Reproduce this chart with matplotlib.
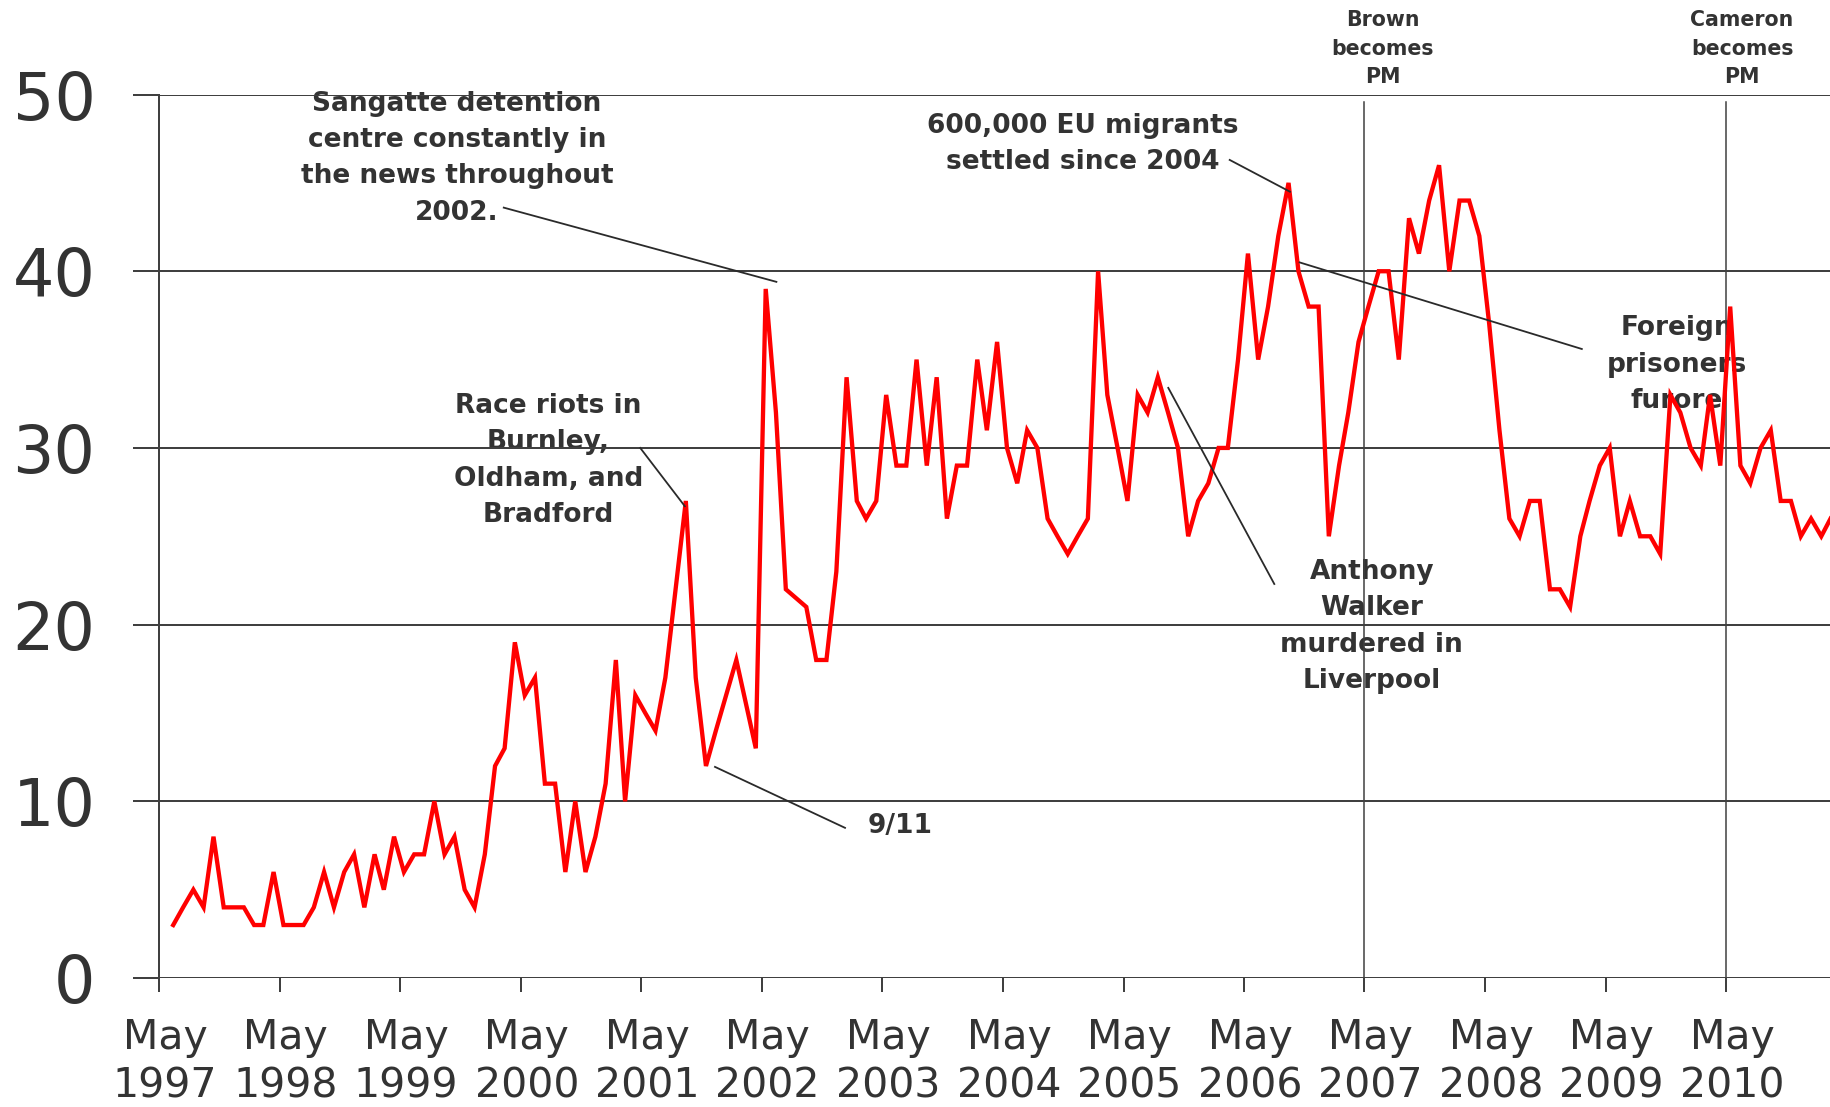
import matplotlib
matplotlib.use("Agg")
import matplotlib.pyplot as plt
import matplotlib.transforms as mtransforms
import pandas as pd

# monthly survey share (%), first value is June 1997; None = no survey that month
share = [3, 4, 5, 4, 8, 4, 4, 4, 3, 3, 6, 3, 3, 3, 4, 6, 4, 6, 7, 4, 7, 5, 8, 6, 7, 7, 10,
         7, 8, 5, 4, 7, 12, 13, 19, 16, 17, 11, 11, 6, 10, 6, 8, 11, 18, 10, 16, 15, 14, 17, 22, 27, 17, 12,
         14, 16, 18, None, 13, 39, 32, 22, None, 21, 18, 18, 23, 34, 27, 26, 27, 33, 29, 29, 35, 29, 34, 26,
         29, 29, 35, 31, 36,
         30, 28, 31, 30, 26, 25, 24, 25, 26, 40, 33, 30, 27, 33, 32, 34, 32, 30, 25, 27, 28, 30, 30, 35, 41,
         35, 38, 42, 45, 40, 38, 38, 25,
         29, 32, 36, 38, 40, 40, 35, 43, 41, 44, 46, 40, 44, 44, 42, 37, 31, 26, 25, 27, 27, 22, 22, 21, 25,
         27, 29, 30, 25, 27, 25, 25, 24,
         33, 32, 30, 29, 33, 29, 38, 29, 28, 30, 31, 27, 27, 25, 26, 25, 26]
first_month = "1997-06-01"

tick_years = list(range(1997, 2011))
y_ticks = [0, 10, 20, 30, 40, 50]

# (label, date of line, label x in decimal years)
pm_changes = [("Brown\nbecomes\nPM", "2007-05-01", 2007.48),
              ("Cameron\nbecomes\nPM", "2010-05-01", 2010.46)]

# (text, text centre, connector start, connector end) in decimal years / %
notes = [
    ("Sangatte detention\ncentre constantly in\nthe news throughout\n2002.",
     (1999.80, 46.4), (2000.19, 43.6), (2002.45, 39.4)),
    ("Race riots in\nBurnley,\nOldham, and\nBradford",
     (2000.56, 29.3), (2001.32, 30.0), (2001.69, 26.7)),
    ("9/11", (2003.48, 8.6), (2003.02, 8.5), (2001.94, 11.95)),
    ("600,000 EU migrants\nsettled since 2004",
     (2004.99, 47.2), (2006.21, 46.3), (2006.71, 44.5)),
    ("Foreign\nprisoners\nfurore", (2009.92, 34.7), (2009.13, 35.6), (2006.79, 40.5)),
    ("Anthony\nWalker\nmurdered in\nLiverpool", (2007.39, 19.9), (2006.58, 22.3), (2005.70, 33.4)),
]


def yr(y):
    y0 = int(y)
    return pd.Timestamp(y0, 1, 1) + pd.Timedelta(days=(y - y0) * 365.25)


grey = "#404040"
txt = "#333333"

dates = pd.date_range(first_month, periods=len(share), freq="MS") + pd.Timedelta(days=12)
s = pd.Series(share, index=dates, dtype=float).dropna()

fig = plt.figure(figsize=(18.3, 11.07), dpi=100)
ax = fig.add_axes([0.0869, 0.1165, 0.9131, 0.7981])
ax.set_axisbelow(True)

ax.plot(s.index, s.values, color="#ff0000", lw=3.1, zorder=2, solid_joinstyle="miter")

for label, d, lx in pm_changes:
    ax.plot([pd.Timestamp(d)] * 2, [0, 49.6], color=grey, lw=1.1, zorder=1.5)
    ax.text(yr(lx), 52.6, label, ha="center", va="center", fontsize=14.8,
            fontweight="bold", color=txt, linespacing=1.55, clip_on=False)

for text, (tx, ty), (x1, y1), (x2, y2) in notes:
    ax.text(yr(tx), ty, text, ha="center", va="center", multialignment="center",
            fontsize=19, fontweight="bold", color=txt, linespacing=1.52, zorder=0.2)
    ax.plot([yr(x1), yr(x2)], [y1, y2], color="#2a2a2a", lw=1.3, zorder=3)

ax.set_ylim(0, 50)
ax.set_xlim(pd.Timestamp("1997-05-01"), yr(2011.19))

ax.set_yticks(y_ticks)
ax.set_yticklabels([str(v) for v in y_ticks])
ax.set_xticks([pd.Timestamp(y, 5, 1) for y in tick_years])
ax.set_xticklabels([f"May\n{y}" for y in tick_years], linespacing=1.28)

ax.yaxis.grid(True, color=grey, lw=1.44)
ax.tick_params(axis="y", direction="out", length=18.7, width=1.44, color=grey,
               pad=27, labelsize=47, labelcolor=txt)
ax.tick_params(axis="x", direction="out", length=10, width=1.44, color=grey,
               pad=19, labelsize=29.5, labelcolor=txt)

# labels in the original sit a little right of their ticks
shift = mtransforms.ScaledTranslation(0.06, 0, fig.dpi_scale_trans)
for lab in ax.get_xticklabels():
    lab.set_transform(lab.get_transform() + shift)

for side in ["top", "right", "bottom"]:
    ax.spines[side].set_visible(False)
ax.spines["left"].set_color(grey)
ax.spines["left"].set_linewidth(1.44)

fig.savefig("out.png", dpi=100)
